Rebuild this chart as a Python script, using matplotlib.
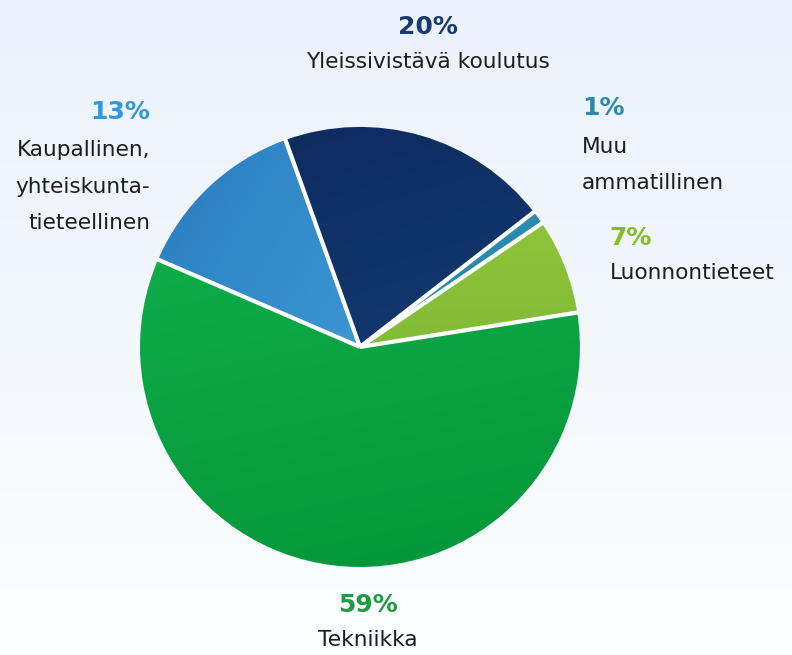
import numpy as np
import matplotlib
matplotlib.use("Agg")
import matplotlib.pyplot as plt
from matplotlib.colors import LinearSegmentedColormap

# Koulutusalat, vastapäivään alkaen oikealta
aloja = ["Luonnontieteet", "Muu\nammatillinen", "Yleissivistävä koulutus",
         "Kaupallinen,\nyhteiskunta-\ntieteellinen", "Tekniikka"]
osuudet = [7, 1, 20, 13, 59]
prosentit = ["7%", "1%", "20%", "13%", "59%"]

# sektoreiden liukuvärit (alku -> loppu) ja liukuvärin suunta
liukuvarit = [("#98ca3e", "#6dad2c"),
              ("#2b8fb2", "#237f9f"),
              ("#0d2a5c", "#15457f"),
              ("#2a7ac0", "#4ab4e0"),
              ("#12b34e", "#04963a")]
suunnat = [(0, -1), (0, -1), (0.3, -1), (1, -0.6), (0.2, -1)]
tekstivarit = ["#86bc25", "#2a8aab", "#173a70", "#3397dc", "#1f9a45"]

# tekstien paikat (pct x, pct y, nimen y, tasaus)
paikat = [(1.136, 0.495, 0.336, "left"),
          (1.009, 1.086, 0.909, "left"),
          (0.309, 1.455, 1.295, "center"),
          (-0.955, 1.068, 0.895, "right"),
          (0.036, -1.173, -1.332, "center")]

fig = plt.figure(figsize=(7.92, 6.55), dpi=100)

# taustan pystysuora liukuväri
bg = fig.add_axes([0, 0, 1, 1])
bg.set_axis_off()
tausta = LinearSegmentedColormap.from_list("tausta", ["#fcfdff", "#f3f8fd", "#ebf2fb"])
bg.imshow(np.linspace(0, 1, 256)[:, None], aspect="auto", cmap=tausta,
          origin="lower", extent=[0, 1, 0, 1])

ax = fig.add_axes([0.149, 0.1008, 0.611, 0.739])

wedges, _ = ax.pie(osuudet, startangle=9, counterclock=True, radius=1,
                   colors=[c[0] for c in liukuvarit],
                   wedgeprops=dict(linewidth=0))
ax.set_xlim(-1.1, 1.1)
ax.set_ylim(-1.1, 1.1)
ax.set_aspect("equal")
ax.set_axis_off()

xx, yy = np.meshgrid(np.linspace(-1, 1, 300), np.linspace(1, -1, 300))
for w, (alku, loppu), (dx, dy) in zip(wedges, liukuvarit, suunnat):
    t = xx * dx + yy * dy
    t = (t - t.min()) / (t.max() - t.min())
    cmap = LinearSegmentedColormap.from_list("s", [alku, loppu])
    im = ax.imshow(t, cmap=cmap, extent=[-1, 1, -1, 1], origin="upper",
                   aspect="auto", zorder=2)
    im.set_clip_path(w)
    w.set_facecolor("none")

# valkoiset erotusviivat vain sektoreiden väliin, ei reunalle
for w in wedges:
    a = np.deg2rad(w.theta1)
    ax.plot([0, 1.005 * np.cos(a)], [0, 1.005 * np.sin(a)], color="white",
            lw=3, solid_capstyle="butt", zorder=3)

for nimi, pct, vari, (px, py, ny, ha) in zip(aloja, prosentit, tekstivarit, paikat):
    ax.text(px, py, pct, color=vari, fontsize=18, fontweight="bold",
            ha=ha, va="center", clip_on=False)
    for i, rivi in enumerate(nimi.split("\n")):
        ax.text(px, ny - i * 0.166, rivi, color="#1e1e1e", fontsize=15.6,
                ha=ha, va="center", clip_on=False)

fig.savefig("out.png", dpi=100)
